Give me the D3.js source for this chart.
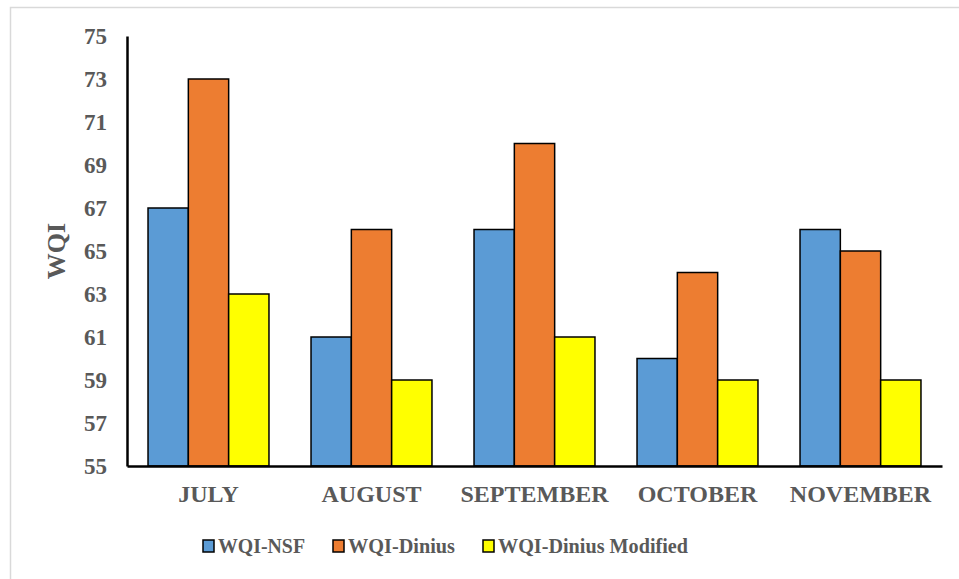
<!DOCTYPE html>
<html><head><meta charset="utf-8">
<script src="https://cdn.jsdelivr.net/npm/d3@7"></script>
<style>body{margin:0;background:#fff}svg{display:block}</style>
</head><body><svg id="c" width="959" height="579"></svg>
<script>
const categories = ["JULY","AUGUST","SEPTEMBER","OCTOBER","NOVEMBER"];
const seriesNames = ["WQI-NSF","WQI-Dinius","WQI-Dinius Modified"];
const nsf = [67,61,66,60,66];
const dinius = [73,66,70,64,65];
const diniusMod = [63,59,61,59,59];
const yTicks = [55,57,59,61,63,65,67,69,71,73,75];
const colors = ["#5B9BD5","#ED7D31","#FFFF00"];

const series = [nsf, dinius, diniusMod];
const svg = d3.select("#c");
const font = "'Liberation Serif','Times New Roman',serif";
const grey = "#595959";

svg.append("rect").attr("x",10.5).attr("y",7.5).attr("width",960).attr("height",600)
  .attr("fill","#fff").attr("stroke","#d9d9d9").attr("stroke-width",1.5);

const x0 = d3.scaleBand().domain(categories).range([127,942]).paddingInner(0.258).paddingOuter(0.129);
const x1 = d3.scaleBand().domain(d3.range(3)).range([0,x0.bandwidth()]);
const y = d3.scaleLinear().domain([55,75]).range([466,36]);

const g = svg.append("g");
categories.forEach((c,i)=>{
  series.forEach((s,j)=>{
    g.append("rect")
      .attr("x",x0(c)+x1(j)).attr("y",y(s[i]))
      .attr("width",x1.bandwidth()).attr("height",y(55)-y(s[i]))
      .attr("fill",colors[j]).attr("stroke","#000").attr("stroke-width",1.5);
  });
});

// axes
const yAxis = svg.append("g").attr("transform","translate(127,0)")
  .call(d3.axisLeft(y).tickValues(yTicks).tickSize(0).tickPadding(20).tickFormat(d3.format("d")));
yAxis.select(".domain").attr("stroke","#000").attr("stroke-width",2.5);
yAxis.selectAll("text").attr("font-family",font).attr("font-weight","bold")
  .attr("font-size",23).attr("fill",grey);

const xAxis = svg.append("g").attr("transform","translate(0,466)")
  .call(d3.axisBottom(x0).tickSize(0).tickPadding(22));
xAxis.select(".domain").attr("stroke","#000").attr("stroke-width",2.5);
xAxis.selectAll("text").attr("font-family",font).attr("font-weight","bold")
  .attr("font-size",24).attr("fill",grey).attr("dy","0.6em");

svg.append("text").attr("transform","translate(65,251) rotate(-90)")
  .attr("text-anchor","middle").attr("font-family",font).attr("font-weight","bold")
  .attr("font-size",26).attr("fill",grey).text("WQI");

// legend
const legX = [203,333,483];
const legW = [87,107,190];
seriesNames.forEach((n,j)=>{
  svg.append("rect").attr("x",legX[j]).attr("y",540).attr("width",11).attr("height",12)
    .attr("fill",colors[j]).attr("stroke","#000").attr("stroke-width",1.5);
  svg.append("text").attr("x",legX[j]+15).attr("y",553)
    .attr("font-family",font).attr("font-weight","bold").attr("font-size",22)
    .attr("textLength",legW[j]).attr("lengthAdjust","spacingAndGlyphs")
    .attr("fill",grey).text(n);
});
</script></body></html>
